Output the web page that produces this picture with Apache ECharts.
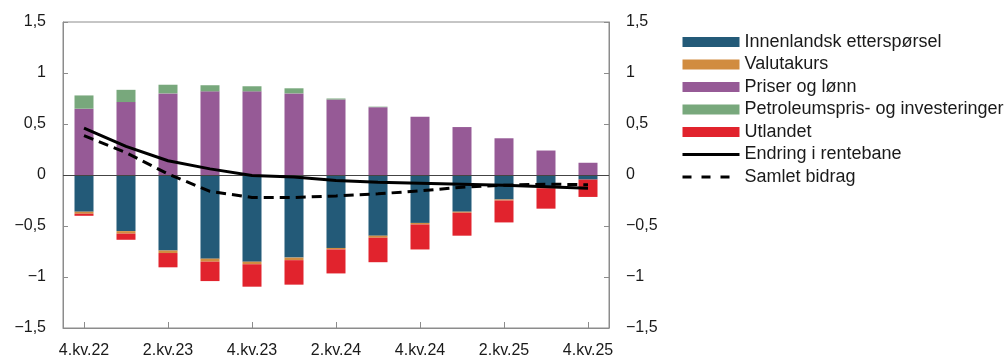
<!DOCTYPE html>
<html>
<head>
<meta charset="utf-8">
<script src="https://cdn.jsdelivr.net/npm/echarts@6/dist/echarts.min.js"></script>
<style>
  html, body { margin: 0; padding: 0; background: #fff; }
  #chart { width: 1008px; height: 361px; }
</style>
</head>
<body>
<div id="chart"></div>
<script>
// kvartaler
const categories = ['4.kv.22', '1.kv.23', '2.kv.23', '3.kv.23', '4.kv.23', '1.kv.24', '2.kv.24',
  '3.kv.24', '4.kv.24', '1.kv.25', '2.kv.25', '3.kv.25', '4.kv.25'];

// bidrag (prosentenheter)
const innenlandsk = [-0.36, -0.55, -0.74, -0.82, -0.85, -0.81, -0.715, -0.595, -0.47, -0.36, -0.24, -0.12, -0.045];
const valutakurs = [-0.02, -0.025, -0.025, -0.03, -0.025, -0.025, -0.015, -0.02, -0.015, -0.01, -0.01, -0.01, 0];
const priser = [0.65, 0.715, 0.80, 0.82, 0.82, 0.80, 0.74, 0.665, 0.57, 0.47, 0.36, 0.24, 0.12];
const petroleum = [0.13, 0.12, 0.085, 0.06, 0.05, 0.05, 0.01, 0.005, 0, 0, 0, 0, 0];
const utlandet = [-0.02, -0.06, -0.14, -0.19, -0.22, -0.24, -0.235, -0.24, -0.245, -0.225, -0.215, -0.2, -0.17];

// linjer
const endring = [0.46, 0.28, 0.14, 0.06, -0.005, -0.02, -0.055, -0.07, -0.08, -0.09, -0.10, -0.115, -0.13];
const samlet = [0.385, 0.22, 0.01, -0.16, -0.22, -0.22, -0.205, -0.185, -0.155, -0.12, -0.10, -0.09, -0.095];

const yMin = -1.5, yMax = 1.5, yStep = 0.5;

const FONT = '"Liberation Sans", Arial, Helvetica, sans-serif';

function fmt(v) {
  return String(v).replace('.', ',').replace('-', '\u2212');
}

function yAxisCfg(pos) {
  return {
    type: 'value',
    position: pos,
    min: yMin, max: yMax, interval: yStep,
    axisLine: { show: true, lineStyle: { color: '#8c8c8c', width: 1 } },
    axisTick: { show: true, inside: true, length: 5, lineStyle: { color: '#8c8c8c' } },
    axisLabel: { formatter: fmt, margin: 17, color: '#1a1a1a', fontSize: 16, fontFamily: FONT },
    splitLine: { show: false }
  };
}

function barSeries(name, data, color) {
  return {
    name: name, type: 'bar', stack: 'bidrag', data: data,
    barWidth: 19,
    itemStyle: { color: color },
    emphasis: { disabled: true }
  };
}

const chart = echarts.init(document.getElementById('chart'), null, { renderer: 'canvas' });

const series = [
  barSeries('Innenlandsk etterspørsel', innenlandsk, '#235a78'),
  barSeries('Valutakurs', valutakurs, '#d18c40'),
  barSeries('Priser og lønn', priser, '#965a96'),
  barSeries('Petroleumspris- og investeringer', petroleum, '#78a87c'),
  barSeries('Utlandet', utlandet, '#e1232d'),
  {
    name: 'Endring i rentebane', type: 'line', data: endring,
    symbol: 'none', z: 5,
    lineStyle: { color: '#000', width: 3 },
    itemStyle: { color: '#000' }
  },
  {
    name: 'Samlet bidrag', type: 'line', data: samlet,
    symbol: 'none', z: 5,
    lineStyle: { color: '#000', width: 3, type: [10, 6] },
    itemStyle: { color: '#000' }
  }
];

// nullinje
series[0].markLine = {
  silent: true, symbol: 'none', label: { show: false },
  lineStyle: { color: '#444', width: 1, type: 'solid' },
  data: [{ yAxis: 0 }]
};

chart.setOption({
  animation: false,
  textStyle: { fontFamily: FONT },
  grid: {
    left: 63, right: 399, top: 22, bottom: 33,
    show: true, borderColor: '#8c8c8c', borderWidth: 1
  },
  legend: {
    orient: 'vertical',
    left: 681, top: 33,
    padding: 0,
    itemWidth: 57, itemHeight: 10, itemGap: 4.5,
    textStyle: { fontSize: 18, lineHeight: 18, color: '#1a1a1a', fontFamily: FONT },
    data: [
      { name: 'Innenlandsk etterspørsel', icon: 'rect' },
      { name: 'Valutakurs', icon: 'rect' },
      { name: 'Priser og lønn', icon: 'rect' },
      { name: 'Petroleumspris- og investeringer', icon: 'rect' },
      { name: 'Utlandet', icon: 'rect' },
      { name: 'Endring i rentebane', itemStyle: { opacity: 0 }, lineStyle: { width: 3 } },
      { name: 'Samlet bidrag', itemStyle: { opacity: 0 }, lineStyle: { width: 3, type: [9, 10] } }
    ]
  },
  xAxis: {
    type: 'category',
    data: categories,
    boundaryGap: true,
    axisLine: { show: true, onZero: false, lineStyle: { color: '#8c8c8c' } },
    axisTick: { show: true, inside: true, length: 6, interval: 1, alignWithLabel: true, lineStyle: { color: '#8c8c8c' } },
    axisLabel: { interval: 1, margin: 15, color: '#1a1a1a', fontSize: 16, fontFamily: FONT }
  },
  yAxis: [yAxisCfg('left'), yAxisCfg('right')],
  series: series
});
</script>
</body>
</html>
